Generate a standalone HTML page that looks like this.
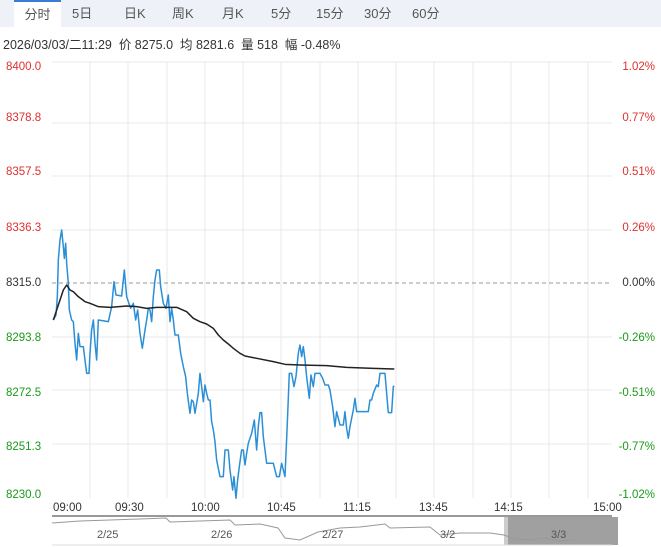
<!DOCTYPE html><html><head><meta charset="utf-8"><style>
body{margin:0;width:661px;height:547px;background:#fff;overflow:hidden;font-family:"Liberation Sans","Noto Sans CJK SC",sans-serif;position:relative}
.tabs{position:absolute;left:0;top:0;width:661px;height:27px;background:#eef2f8}
.tab{position:absolute;top:0;height:27px;line-height:27px;font-size:13px;color:#555}
.sel{background:#fff;border-top:2px solid #3a7bd5;height:25px;line-height:25px}
.info{position:absolute;left:3px;top:34px;font-size:12.5px;color:#333}
.l{position:absolute;left:6px;font-size:11.5px;width:46px}
.r{position:absolute;right:6px;font-size:11.5px;text-align:right}
.t{position:absolute;top:502px;font-size:11.5px;color:#333}
</style></head><body>
<div class="tabs">
<div class="tab sel" style="left:14px;width:47px;text-align:center">分时</div>
<div class="tab" style="left:72px">5日</div>
<div class="tab" style="left:124px">日K</div>
<div class="tab" style="left:172px">周K</div>
<div class="tab" style="left:222px">月K</div>
<div class="tab" style="left:271px">5分</div>
<div class="tab" style="left:316px">15分</div>
<div class="tab" style="left:364px">30分</div>
<div class="tab" style="left:412px">60分</div>
</div>
<div class="info">2026/03/03/二11:29&nbsp; 价 8275.0&nbsp; 均 8281.6&nbsp; 量 518&nbsp; 幅 -0.48%</div>
<svg style="position:absolute;left:0;top:0" width="661" height="547">
<g stroke="#e8e8e8" stroke-width="1">
<line x1="52" y1="62" x2="612" y2="62"/>
<line x1="52" y1="123" x2="612" y2="123"/><line x1="52" y1="176" x2="612" y2="176"/><line x1="52" y1="230" x2="612" y2="230"/>
<line x1="52" y1="337" x2="612" y2="337"/><line x1="52" y1="390" x2="612" y2="390"/><line x1="52" y1="444" x2="612" y2="444"/>
<line x1="90" y1="62" x2="90" y2="498"/><line x1="128" y1="62" x2="128" y2="498"/><line x1="167" y1="62" x2="167" y2="498"/><line x1="205" y1="62" x2="205" y2="498"/><line x1="243" y1="62" x2="243" y2="498"/><line x1="281" y1="62" x2="281" y2="498"/><line x1="320" y1="62" x2="320" y2="498"/><line x1="358" y1="62" x2="358" y2="498"/><line x1="396" y1="62" x2="396" y2="498"/><line x1="434" y1="62" x2="434" y2="498"/><line x1="473" y1="62" x2="473" y2="498"/><line x1="511" y1="62" x2="511" y2="498"/><line x1="549" y1="62" x2="549" y2="498"/><line x1="588" y1="62" x2="588" y2="498"/>
</g>
<line x1="52" y1="283" x2="612" y2="283" stroke="#999" stroke-dasharray="4,3"/>
<g transform="translate(40,220) scale(0.3333)" fill="none" stroke-linejoin="round">
<polyline stroke="#2b8fd6" stroke-width="4.5" points="40,300 48,285 52,230 55,120 60,60 65,30 70,80 73,115 77,70 80,130 85,190 88,270 95,300 100,305 105,370 110,420 115,340 120,380 130,380 135,420 140,460 147,460 150,400 155,330 160,300 165,370 170,420 175,300 205,305 215,260 222,185 228,225 245,228 253,150 260,230 265,245 272,265 280,250 287,300 293,270 300,340 307,385 315,330 320,300 325,265 330,270 335,305 340,230 345,180 350,150 358,150 362,200 370,250 378,265 385,225 390,305 395,265 400,300 405,345 415,345 422,400 430,440 437,470 442,520 450,580 455,540 460,545 465,580 470,550 475,520 480,460 485,500 490,545 495,495 500,520 505,540 510,540 515,605 520,630 525,665 530,720 540,770 550,770 555,690 565,690 570,750 578,810 582,770 588,835 593,780 598,740 605,690 610,690 615,735 620,700 625,670 635,640 643,600 650,690 655,620 660,578 665,578 670,650 680,730 700,730 710,770 718,770 725,730 735,770 742,610 748,460 755,460 762,500 768,470 775,400 780,375 785,410 790,380 795,420 800,470 808,535 813,465 820,500 825,460 840,460 848,475 855,495 865,495 870,510 878,560 885,620 890,575 895,595 900,615 910,615 915,575 920,625 925,655 930,620 940,570 945,535 950,575 985,575 990,540 995,540 1000,520 1010,495 1015,500 1020,460 1035,460 1045,578 1055,578 1060,500 1063,498"/>
<polyline stroke="#222" stroke-width="4.5" points="40,300 50,270 60,240 70,210 80,195 90,210 100,215 115,230 135,245 150,250 175,260 210,262 260,258 290,260 320,265 350,262 410,262 440,275 460,295 480,305 500,312 520,325 535,345 550,360 565,372 580,385 600,400 615,408 650,415 700,425 735,433 780,435 860,437 920,442 1000,445 1063,447"/>
</g>
<line x1="52" y1="516" x2="612" y2="516" stroke="#333"/>
<rect x="52" y="517" width="566" height="28" fill="#fff"/>
<rect x="508" y="517" width="110" height="28" fill="#a0a0a0"/>
<rect x="504" y="517" width="4" height="28" fill="#ccc"/>
<polyline fill="none" stroke="#999" stroke-width="1" points="52,523 80,521 110,520 140,519 166,518 170,522 200,521 230,520 235,525 260,524 278,528 285,538 300,540 318,532 340,528 360,527 385,524 390,528 430,527 440,535 460,533 490,533 504,535 515,539 530,540 545,538 560,541 575,540"/>
<line x1="52" y1="545" x2="612" y2="545" stroke="#ddd"/>
</svg>
<div style="position:absolute;left:97px;top:529px;font-size:11px;color:#555">2/25</div>
<div style="position:absolute;left:211px;top:529px;font-size:11px;color:#555">2/26</div>
<div style="position:absolute;left:322px;top:529px;font-size:11px;color:#555">2/27</div>
<div style="position:absolute;left:440px;top:529px;font-size:11px;color:#555">3/2</div>
<div style="position:absolute;left:551px;top:529px;font-size:11px;color:#555">3/3</div>
<div class="l" style="top:61px;color:#e03030">8400.0</div>
<div class="l" style="top:112px;color:#e03030">8378.8</div>
<div class="l" style="top:166px;color:#e03030">8357.5</div>
<div class="l" style="top:222px;color:#e03030">8336.3</div>
<div class="l" style="top:277px;color:#333">8315.0</div>
<div class="l" style="top:332px;color:#1a9a1a">8293.8</div>
<div class="l" style="top:387px;color:#1a9a1a">8272.5</div>
<div class="l" style="top:441px;color:#1a9a1a">8251.3</div>
<div class="l" style="top:489px;color:#1a9a1a">8230.0</div>
<div class="r" style="top:61px;color:#e03030">1.02%</div>
<div class="r" style="top:112px;color:#e03030">0.77%</div>
<div class="r" style="top:166px;color:#e03030">0.51%</div>
<div class="r" style="top:222px;color:#e03030">0.26%</div>
<div class="r" style="top:277px;color:#333">0.00%</div>
<div class="r" style="top:332px;color:#1a9a1a">-0.26%</div>
<div class="r" style="top:387px;color:#1a9a1a">-0.51%</div>
<div class="r" style="top:441px;color:#1a9a1a">-0.77%</div>
<div class="r" style="top:489px;color:#1a9a1a">-1.02%</div>
<div class="t" style="left:53px">09:00</div>
<div class="t" style="left:115px">09:30</div>
<div class="t" style="left:191px">10:00</div>
<div class="t" style="left:267px">10:45</div>
<div class="t" style="left:343px">11:15</div>
<div class="t" style="left:419px">13:45</div>
<div class="t" style="left:494px">14:15</div>
<div class="t" style="left:593px">15:00</div>
</body></html>
